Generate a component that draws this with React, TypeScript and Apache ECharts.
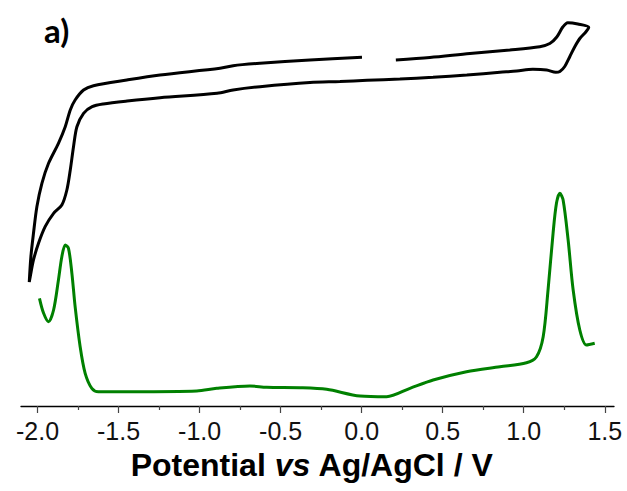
import React, { useEffect, useRef } from "react";
import * as echarts from "echarts";

// Cyclic voltammogram (black): potential (V) and current (arb. units), in scan order
const cvPotential = [
  0.211, 0.421, 0.668, 0.914, 1.099, 1.161, 1.204, 1.241, 1.272, 1.334, 1.401,
  1.383, 1.346, 1.315, 1.284, 1.253, 1.223, 1.198, 1.142, 1.056, 0.957, 0.853,
  0.649, 0.44, 0.236, 0.033, -0.134, -0.319, -0.627, -0.793, -0.892, -1.244,
  -1.447, -1.595, -1.663, -1.716, -1.757, -1.778, -1.798, -1.819, -1.85, -1.901,
  -1.953, -1.994, -2.025, -2.045, -2.051, -2.041, -2.025, -2.004, -1.973, -1.932,
  -1.871, -1.829, -1.798, -1.768, -1.716, -1.655, -1.449, -1.244, -0.874, -0.793,
  -0.627, -0.319, 0.002,
];
const cvCurrent = [
  346, 348.5, 352.5, 356, 359.3, 362.5, 369, 379, 383.3, 382, 378.7,
  374, 367.5, 359.3, 349.3, 339.5, 334.5, 333.7, 336, 336.7, 335, 333.7,
  331, 328.7, 327, 325.7, 324.5, 323.5, 319.3, 316, 312.7, 308.3,
  305, 302, 299.3, 292.7, 279.3, 259.3, 236, 216, 201, 192.7,
  179.3, 162.7, 146, 129.3, 124, 149.3, 172.7, 199.3, 222.7, 242.7,
  262.7, 279.3, 296, 306, 316, 320.3, 326, 331, 337.7, 340.3,
  342.7, 346, 348.7,
];

// Green trace: potential (V) and signal (arb. units)
const gPotential = [
  -1.988, -1.963, -1.932, -1.901, -1.871, -1.85, -1.829, -1.809, -1.788, -1.768,
  -1.737, -1.706, -1.665, -1.624, -1.41, -1.017, -0.894, -0.689, -0.586, -0.38,
  -0.216, -0.01, 0.154, 0.298, 0.441, 0.647, 0.853, 1.017, 1.079, 1.12, 1.15,
  1.181, 1.202, 1.223, 1.243, 1.274, 1.305, 1.346, 1.387, 1.438,
];
const gSignal = [
  107.7, 93, 84.3, 96, 126, 149.3, 161, 157.7, 132.7, 99.3,
  59.3, 32.7, 17.7, 14.3, 14.3, 15, 17.7, 20, 18.7, 18.3,
  16.7, 10, 9.3, 17.7, 26, 34.3, 39.3, 43.3, 49.3, 69.3, 116,
  172.7, 202.7, 212.7, 206, 166, 116, 76, 61, 62.7,
];

const majorTicks = [-2.0, -1.5, -1.0, -0.5, 0.0, 0.5, 1.0, 1.5];
const minorTicks = [-1.75, -1.25, -0.75, -0.25, 0.25, 0.75, 1.25];

const X_MIN = -2.102;
const X_MAX = 1.557;

export default function App() {
  const ref = useRef<HTMLDivElement>(null);
  useEffect(() => {
    document.body.style.margin = "0";
    if (!ref.current) return;
    const chart = echarts.init(ref.current, null, { renderer: "svg" });
    const cvData = cvPotential.map((x, i) => [x, cvCurrent[i]]);
    const gData = gPotential.map((x, i) => [x, gSignal[i]]);
    chart.setOption({
      animation: false,
      backgroundColor: "#ffffff",
      grid: { left: 21, right: 13, top: 0, bottom: 85, containLabel: false },
      xAxis: [
        {
          type: "value",
          min: X_MIN,
          max: X_MAX,
          position: "bottom",
          axisLine: { show: true, onZero: false, lineStyle: { color: "#000", width: 1.3 } },
          axisTick: {
            show: true,
            customValues: majorTicks,
            length: 7,
            lineStyle: { color: "#444", width: 1.2 },
          },
          axisLabel: {
            customValues: majorTicks,
            formatter: (v: number) => v.toFixed(1),
            fontFamily: "Liberation Sans, Arial, sans-serif",
            fontSize: 25,
            color: "#111",
            margin: 12,
          },
          splitLine: { show: false },
        },
        {
          type: "value",
          min: X_MIN,
          max: X_MAX,
          position: "bottom",
          axisLine: { show: false },
          axisTick: {
            show: true,
            customValues: minorTicks,
            length: 4,
            lineStyle: { color: "#444", width: 1.2 },
          },
          axisLabel: { show: false },
          splitLine: { show: false },
        },
      ],
      yAxis: { type: "value", min: 0, max: 406, show: false },
      series: [
        {
          type: "line",
          data: cvData,
          showSymbol: false,
          smooth: 0.3,
          lineStyle: { color: "#000", width: 3 },
          xAxisIndex: 0,
        },
        {
          type: "line",
          data: gData,
          showSymbol: false,
          smooth: 0.3,
          lineStyle: { color: "#008000", width: 3 },
          xAxisIndex: 0,
        },
      ],
      graphic: [
        {
          type: "text",
          x: 44,
          y: 30,
          style: {
            text: "a)",
            fontFamily: "Lato, sans-serif",
            fontWeight: "bold",
            fontSize: 33,
            fill: "#000",
            textAlign: "left",
            textVerticalAlign: "middle",
          },
        },
        {
          type: "text",
          x: 312,
          y: 465,
          style: {
            text: "{a|Potential }{b|vs}{a| Ag/AgCl / V}",
            textAlign: "center",
            textVerticalAlign: "middle",
            rich: {
              a: {
                fontFamily: "Liberation Sans, Arial, sans-serif",
                fontWeight: "bold",
                fontSize: 32,
                fill: "#000",
              },
              b: {
                fontFamily: "Liberation Sans, Arial, sans-serif",
                fontWeight: "bold",
                fontStyle: "italic",
                fontSize: 32,
                fill: "#000",
              },
            },
          },
        },
      ],
    });
    return () => chart.dispose();
  }, []);
  return <div ref={ref} style={{ width: 627, height: 491 }} />;
}
